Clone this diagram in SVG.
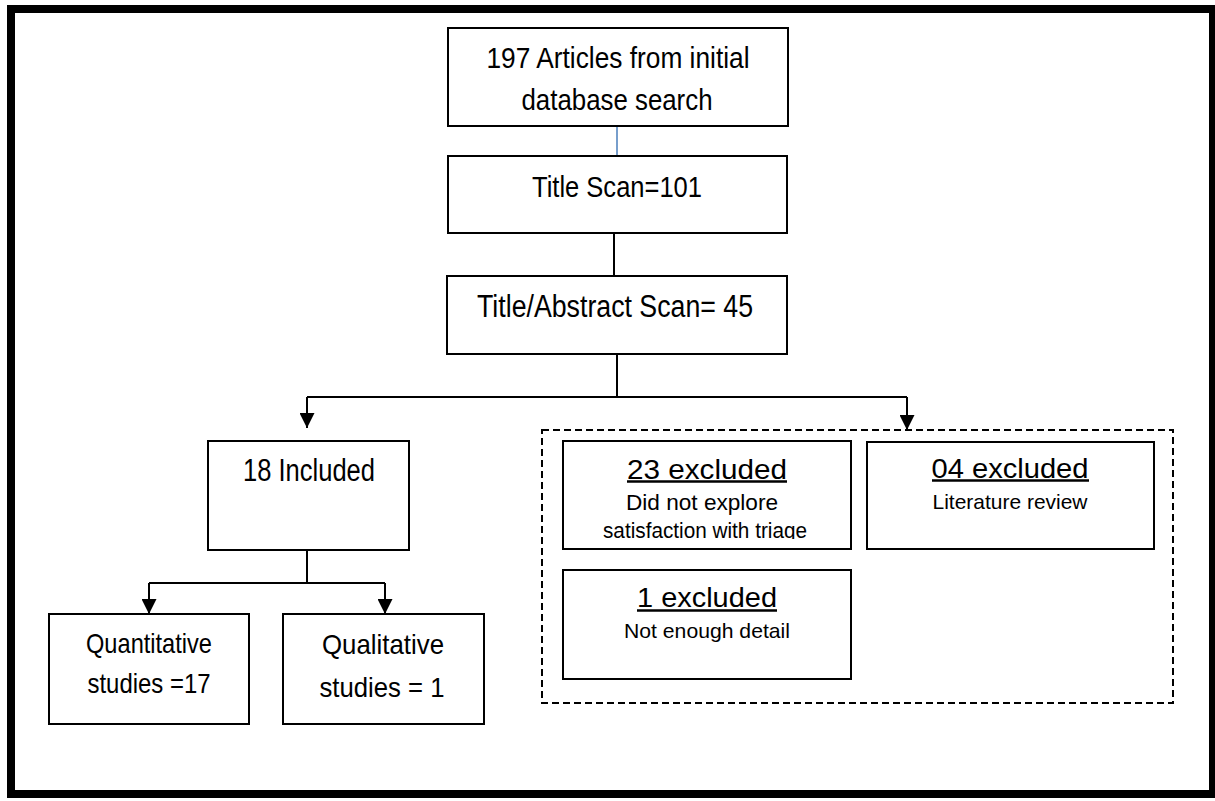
<svg xmlns="http://www.w3.org/2000/svg" width="1215" height="801" viewBox="0 0 1215 801">
<style>
.box{fill:#fff;stroke:#000;stroke-width:2}
.t{font-family:"Liberation Sans Narrow","Liberation Sans",Arial,sans-serif;fill:#000;text-anchor:middle}
.c{fill:none;stroke:#000;stroke-width:2}
.u{stroke:#000;stroke-width:2.5}
</style>
<defs>
<marker id="ah" viewBox="0 0 10 10" refX="10" refY="5" markerWidth="15" markerHeight="15" markerUnits="userSpaceOnUse" orient="auto">
<path d="M0,0 L10,5 L0,10 z" fill="#000"/>
</marker>
<clipPath id="clip23"><rect x="563" y="441" width="288" height="98"/></clipPath>
</defs>
<rect x="11" y="9" width="1202" height="785" fill="#fff" stroke="#000" stroke-width="8"/>

<g id="connectors">
<line x1="617" y1="126" x2="617" y2="156" stroke="#4a7ebb" stroke-width="1.5"/>
<line class="c" x1="614" y1="233" x2="614" y2="276"/>
<polyline class="c" points="617,354 617,397"/>
<polyline class="c" points="307,397 907,397"/>
<polyline class="c" points="307,397 307,428" marker-end="url(#ah)"/>
<polyline class="c" points="907,397 907,430" marker-end="url(#ah)"/>
<polyline class="c" points="307,550 307,583"/>
<polyline class="c" points="149,583 385,583"/>
<polyline class="c" points="149,583 149,614" marker-end="url(#ah)"/>
<polyline class="c" points="385,583 385,614" marker-end="url(#ah)"/>
</g>

<g id="n_initial">
<rect class="box" x="448" y="28" width="340" height="98"/>
<text class="t" x="618" y="68" font-size="30" textLength="263" lengthAdjust="spacingAndGlyphs">197 Articles from initial</text>
<text class="t" x="617" y="110" font-size="30" textLength="191" lengthAdjust="spacingAndGlyphs">database search</text>
</g>

<g id="n_title">
<rect class="box" x="448" y="156" width="339" height="77"/>
<text class="t" x="617" y="197" font-size="30" textLength="170" lengthAdjust="spacingAndGlyphs">Title Scan=101</text>
</g>

<g id="n_abstract">
<rect class="box" x="447" y="276" width="340" height="78"/>
<text class="t" x="615" y="317" font-size="31" textLength="276" lengthAdjust="spacingAndGlyphs">Title/Abstract Scan= 45</text>
</g>

<g id="n_included">
<rect class="box" x="208" y="441" width="201" height="109"/>
<text class="t" x="309" y="481" font-size="31" textLength="132" lengthAdjust="spacingAndGlyphs">18 Included</text>
</g>

<g id="n_quant">
<rect class="box" x="49" y="614" width="200" height="110"/>
<text class="t" x="149" y="653" font-size="28" textLength="126" lengthAdjust="spacingAndGlyphs">Quantitative</text>
<text class="t" x="149" y="693" font-size="28" textLength="123" lengthAdjust="spacingAndGlyphs">studies =17</text>
</g>

<g id="n_qual">
<rect class="box" x="283" y="614" width="201" height="110"/>
<text class="t" x="383" y="654" font-size="28" textLength="122" lengthAdjust="spacingAndGlyphs">Qualitative</text>
<text class="t" x="382" y="697" font-size="28" textLength="125" lengthAdjust="spacingAndGlyphs">studies = 1</text>
</g>

<g id="n_excluded_group">
<rect x="542" y="430" width="631" height="273" fill="none" stroke="#000" stroke-width="2" stroke-dasharray="7,4"/>
</g>

<g id="n_ex23">
<rect class="box" x="563" y="441" width="288" height="108"/>
<text class="t" x="707" y="479" font-size="28" textLength="160" lengthAdjust="spacingAndGlyphs">23 excluded</text>
<line class="u" x1="627" y1="481.5" x2="787" y2="481.5"/>
<text class="t" x="702" y="510" font-size="22" textLength="152" lengthAdjust="spacingAndGlyphs">Did not explore</text>
<g clip-path="url(#clip23)">
<text class="t" x="705" y="538" font-size="22" textLength="204" lengthAdjust="spacingAndGlyphs">satisfaction with triage</text>
</g>
</g>

<g id="n_ex04">
<rect class="box" x="867" y="442" width="287" height="107"/>
<text class="t" x="1010" y="478" font-size="28" textLength="157" lengthAdjust="spacingAndGlyphs">04 excluded</text>
<line class="u" x1="932" y1="480.5" x2="1089" y2="480.5"/>
<text class="t" x="1010" y="509" font-size="21" textLength="155" lengthAdjust="spacingAndGlyphs">Literature review</text>
</g>

<g id="n_ex1">
<rect class="box" x="563" y="570" width="288" height="109"/>
<text class="t" x="707" y="607" font-size="28" textLength="140" lengthAdjust="spacingAndGlyphs">1 excluded</text>
<line class="u" x1="637" y1="610.5" x2="777" y2="610.5"/>
<text class="t" x="707" y="638" font-size="21" textLength="166" lengthAdjust="spacingAndGlyphs">Not enough detail</text>
</g>
</svg>
